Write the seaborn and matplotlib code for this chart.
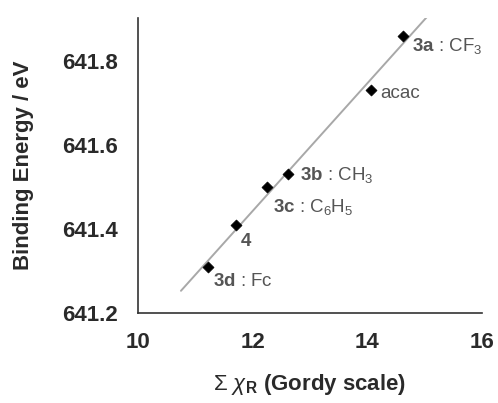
import numpy as np
import pandas as pd
import matplotlib
matplotlib.use("Agg")
import matplotlib.pyplot as plt
import seaborn as sns

# Data
labels = ["3a", "acac", "3b", "3c", "4", "3d"]
label_texts = [r"$\mathbf{3a}$ : CF$_3$", "acac", r"$\mathbf{3b}$ : CH$_3$",
               r"$\mathbf{3c}$ : C$_6$H$_5$", r"$\mathbf{4}$", r"$\mathbf{3d}$ : Fc"]
chi_sum = [14.63, 14.06, 12.62, 12.25, 11.71, 11.22]
binding_energy = [641.86, 641.73, 641.53, 641.50, 641.41, 641.31]
x_ticks = [10, 12, 14, 16]
y_ticks = [641.2, 641.4, 641.6, 641.8]
fit_range = [10.75, 15.05]

sns.set_style("white")
plt.rcParams["font.family"] = ["Liberation Sans", "DejaVu Sans"]
plt.rcParams["mathtext.fontset"] = "custom"
plt.rcParams["mathtext.rm"] = "Liberation Sans"
plt.rcParams["mathtext.it"] = "Liberation Sans:italic"
plt.rcParams["mathtext.bf"] = "Liberation Sans:bold"

df = pd.DataFrame({"chi": chi_sum, "be": binding_energy, "label": labels})

fig = plt.figure(figsize=(4.98, 4.03), dpi=100)
ax = fig.add_axes([0.277, 0.2233, 0.691, 0.7317])

# regression line
coef = np.polyfit(chi_sum, binding_energy, 1)
xf = np.array(fit_range)
ax.plot(xf, np.polyval(coef, xf), color="#a8a8a8", lw=1.4, zorder=1)

sns.scatterplot(data=df, x="chi", y="be", marker="D", color="black", s=32,
                edgecolor="black", ax=ax, zorder=3, legend=False)

offsets = [(9, -10), (9, -3), (12, -1), (6, -20), (4, -17), (5, -15)]
for xv, yv, t, off in zip(chi_sum, binding_energy, label_texts, offsets):
    ax.annotate(t, (xv, yv), xytext=off, textcoords="offset pixels",
                fontsize=13.5, color="#555555", va="center", ha="left")

ax.set_xlim(10, 16)
ax.set_ylim(641.2, 641.902)
ax.set_xticks(x_ticks)
ax.set_yticks(y_ticks)
ax.set_xticklabels([str(v) for v in x_ticks])
ax.set_yticklabels([f"{v:.1f}" for v in y_ticks])
for lab in ax.get_xticklabels() + ax.get_yticklabels():
    lab.set_fontweight("bold")
    lab.set_fontsize(16)
    lab.set_color("#2a2a2a")

ax.tick_params(axis="both", direction="out", length=4.5, width=1, color="#333333")
ax.tick_params(axis="y", pad=10)
ax.tick_params(axis="x", pad=9)
sns.despine(ax=ax)
for s in ["left", "bottom"]:
    ax.spines[s].set_color("#333333")
    ax.spines[s].set_linewidth(1.2)

ax.set_xlabel(r"$\Sigma\ \chi_\mathbf{R}$ (Gordy scale)", fontsize=16,
              fontweight="bold", color="#2a2a2a", labelpad=14)
ax.set_ylabel("Binding Energy / eV", fontsize=16, fontweight="bold",
              color="#2a2a2a", labelpad=20)

fig.savefig("out.png", dpi=100)
